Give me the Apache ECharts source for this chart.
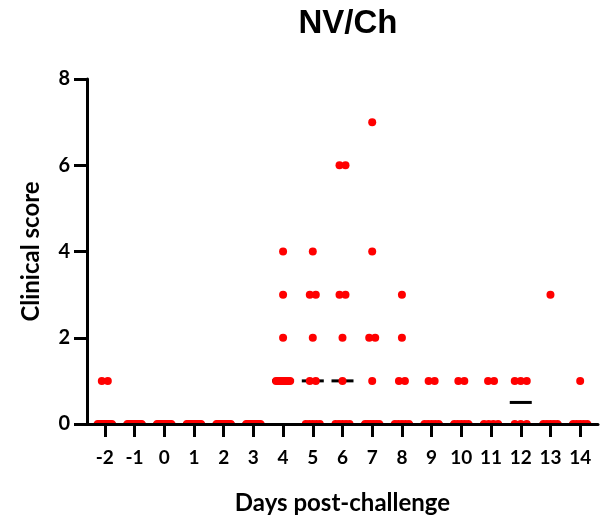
<!DOCTYPE html>
<html>
<head>
<meta charset="utf-8">
<script src="https://cdn.jsdelivr.net/npm/echarts@6/dist/echarts.min.js"></script>
<style>
  html, body { margin: 0; padding: 0; background: #fff; }
  #chart { width: 600px; height: 520px; }
</style>
</head>
<body>
<div id="chart"></div>
<script>
// Days of the study, relative to challenge
const days = [-2, -1, 0, 1, 2, 3, 4, 5, 6, 7, 8, 9, 10, 11, 12, 13, 14];
const dayTicks = [-2, -1, 0, 1, 2, 3, 4, 5, 6, 7, 8, 9, 10, 11, 12, 13, 14];

// Individual clinical scores, one array per day
const dMinus2 = [1, 1, 0, 0, 0, 0, 0, 0, 0, 0, 0];
const dMinus1 = [0, 0, 0, 0, 0, 0, 0, 0, 0, 0, 0];
const d0 = [0, 0, 0, 0, 0, 0, 0, 0, 0, 0, 0];
const d1 = [0, 0, 0, 0, 0, 0, 0, 0, 0, 0, 0];
const d2 = [0, 0, 0, 0, 0, 0, 0, 0, 0, 0, 0];
const d3 = [0, 0, 0, 0, 0, 0, 0, 0, 0, 0, 0];
const d4 = [4, 3, 2, 1, 1, 1, 1, 1, 1, 1, 1];
const d5 = [4, 3, 3, 2, 1, 1, 0, 0, 0, 0, 0];
const d6 = [6, 6, 3, 3, 2, 1, 0, 0, 0, 0, 0];
const d7 = [7, 4, 2, 2, 1, 0, 0, 0, 0, 0, 0];
const d8 = [3, 2, 1, 1, 0, 0, 0, 0, 0];
const d9 = [1, 1, 0, 0, 0, 0, 0];
const d10 = [1, 1, 0, 0, 0, 0, 0];
const d11 = [1, 1, 0, 0, 0, 0];
const d12 = [1, 1, 1, 0, 0, 0];
const d13 = [3, 0, 0, 0, 0, 0];
const d14 = [1, 0, 0, 0, 0, 0];

const scoreLists = [dMinus2, dMinus1, d0, d1, d2, d3, d4, d5, d6, d7, d8, d9, d10, d11, d12, d13, d14];

function median(arr) {
  const s = arr.slice().sort((a, b) => a - b);
  const m = Math.floor(s.length / 2);
  return s.length % 2 ? s[m] : (s[m - 1] + s[m]) / 2;
}

// Points: [day, score, sideways spread in px] — equal scores on a day fan out in a row
const points = [];
const medians = [];
days.forEach((day, k) => {
  const list = scoreLists[k];
  const groups = {};
  list.forEach(v => { (groups[v] = groups[v] || []).push(v); });
  Object.keys(groups).forEach(key => {
    const g = groups[key];
    const n = g.length;
    const step = n > 1 ? Math.min(6, 14 / (n - 1)) : 0;
    g.forEach((v, i) => {
      points.push([day, v, (i - (n - 1) / 2) * step]);
    });
  });
  medians.push([day, median(list)]);
});

// Clip every mark to the plotting area so marks at 0 show only above the axis
function plotClip(params) {
  const cs = params.coordSys;
  return { type: 'rect', shape: { x: cs.x, y: cs.y, width: cs.width, height: cs.height } };
}

const FONT = 'Lato';
const chart = echarts.init(document.getElementById('chart'));
chart.setOption({
  animation: false,
  backgroundColor: '#ffffff',
  title: {
    text: 'NV/Ch',
    left: 343,
    textAlign: 'center',
    top: 2,
    textStyle: { fontFamily: 'Liberation Sans', fontWeight: 'bold', fontSize: 33, color: '#000' }
  },
  grid: { left: 87, right: 2, top: 79, bottom: 95, containLabel: false },
  xAxis: {
    type: 'value',
    min: -2.6,
    max: 14.6,
    z: 5,
    splitLine: { show: false },
    axisLine: { show: true, onZero: false, lineStyle: { color: '#000', width: 3 } },
    axisTick: { show: true, customValues: dayTicks, length: 13, lineStyle: { color: '#000', width: 3 } },
    axisLabel: {
      customValues: dayTicks,
      margin: 24,
      color: '#000',
      fontFamily: FONT,
      fontWeight: 'bold',
      fontSize: 19
    },
    name: 'Days post-challenge',
    nameLocation: 'middle',
    nameGap: 67,
    nameTextStyle: { fontFamily: FONT, fontWeight: 'bold', fontSize: 24, color: '#000' }
  },
  yAxis: {
    type: 'value',
    min: 0,
    max: 8,
    interval: 2,
    z: 5,
    splitLine: { show: false },
    axisLine: { show: true, onZero: false, lineStyle: { color: '#000', width: 3 } },
    axisTick: { show: true, length: 13, lineStyle: { color: '#000', width: 3 } },
    axisLabel: {
      margin: 17,
      color: '#000',
      fontFamily: FONT,
      fontWeight: 'bold',
      fontSize: 20
    },
    name: 'Clinical score',
    nameLocation: 'middle',
    nameGap: 44,
    nameTextStyle: { fontFamily: FONT, fontWeight: 'bold', fontSize: 24, color: '#000' }
  },
  series: [
    {
      name: 'median',
      type: 'custom',
      data: medians,
      encode: { x: 0, y: 1 },
      clip: true,
      z: 2,
      renderItem: function (params, api) {
        const c = api.coord([api.value(0), api.value(1)]);
        return {
          type: 'rect',
          clipPath: plotClip(params),
          shape: { x: c[0] - 11, y: c[1] - 1.5, width: 22, height: 3 },
          style: { fill: '#000' }
        };
      }
    },
    {
      name: 'scores',
      type: 'custom',
      data: points,
      encode: { x: 0, y: 1 },
      clip: true,
      z: 3,
      renderItem: function (params, api) {
        const c = api.coord([api.value(0), api.value(1)]);
        return {
          type: 'circle',
          clipPath: plotClip(params),
          shape: { cx: c[0] + api.value(2), cy: c[1], r: 4 },
          style: { fill: '#ff0000' }
        };
      }
    }
  ]
});
</script>
</body>
</html>
